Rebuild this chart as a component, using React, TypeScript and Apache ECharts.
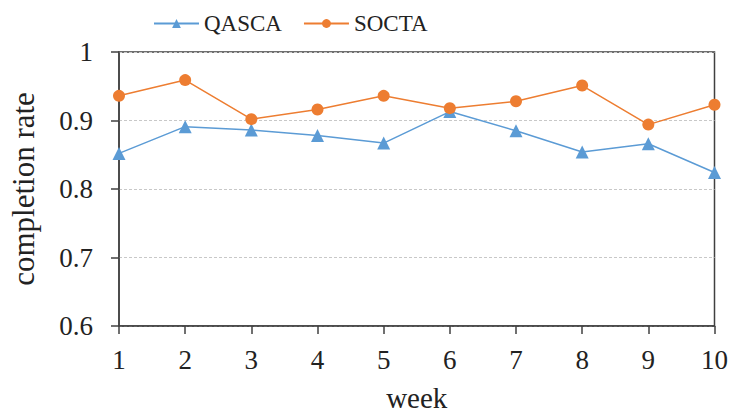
import React, { useEffect, useRef } from "react";
import * as echarts from "echarts";

const weeks = ["1", "2", "3", "4", "5", "6", "7", "8", "9", "10"];
const qasca = [0.852, 0.891, 0.886, 0.878, 0.867, 0.913, 0.885, 0.854, 0.866, 0.824];
const socta = [0.936, 0.959, 0.902, 0.916, 0.936, 0.918, 0.928, 0.951, 0.894, 0.923];

const FONT = "'Liberation Serif', 'Times New Roman', serif";
const AXIS_COLOR = "#404040";
const TEXT_COLOR = "#222";

export default function App() {
  const ref = useRef<HTMLDivElement>(null);
  useEffect(() => {
    if (!ref.current) return;
    const chart = echarts.init(ref.current, undefined, { renderer: "svg" });
    chart.setOption({
      animation: false,
      textStyle: { fontFamily: FONT },
      legend: {
        top: 7,
        left: 148,
        itemWidth: 45,
        itemHeight: 11,
        itemGap: 21,
        textStyle: { fontFamily: FONT, fontSize: 23, color: TEXT_COLOR },
        data: ["QASCA", "SOCTA"],
      },
      grid: {
        left: 116,
        right: 15,
        top: 52,
        bottom: 87,
        show: true,
        borderColor: AXIS_COLOR,
        borderWidth: 1.5,
      },
      xAxis: {
        type: "category",
        data: weeks,
        boundaryGap: false,
        name: "week",
        nameLocation: "middle",
        nameGap: 57,
        nameTextStyle: { fontFamily: FONT, fontSize: 29, color: TEXT_COLOR },
        axisLine: { lineStyle: { color: AXIS_COLOR, width: 1.5 } },
        axisTick: { alignWithLabel: true, length: 8, inside: false, lineStyle: { color: AXIS_COLOR, width: 1.5 } },
        axisLabel: { fontFamily: FONT, fontSize: 27, color: TEXT_COLOR, margin: 20 },
        splitLine: { show: false },
      },
      yAxis: {
        type: "value",
        min: 0.6,
        max: 1,
        interval: 0.1,
        name: "completion rate",
        nameLocation: "middle",
        nameGap: 80,
        nameTextStyle: { fontFamily: FONT, fontSize: 31, color: TEXT_COLOR },
        axisLine: { show: true, lineStyle: { color: AXIS_COLOR, width: 1.5 } },
        axisTick: { show: true, length: 8, lineStyle: { color: AXIS_COLOR, width: 1.5 } },
        axisLabel: {
          fontFamily: FONT,
          fontSize: 27,
          color: TEXT_COLOR,
          margin: 26,
          formatter: (v: number) => (Math.abs(v - 1) < 1e-9 ? "1" : v.toFixed(1)),
        },
        splitLine: { show: true, lineStyle: { color: "#c8c8c8", type: [3, 2], width: 1 } },
      },
      series: [
        {
          name: "QASCA",
          type: "line",
          data: qasca,
          symbol: "triangle",
          symbolSize: 13,
          color: "#5B9BD5",
          lineStyle: { width: 1.5, color: "#5B9BD5" },
          itemStyle: { color: "#5B9BD5" },
        },
        {
          name: "SOCTA",
          type: "line",
          data: socta,
          symbol: "circle",
          symbolSize: 12,
          color: "#ED7D31",
          lineStyle: { width: 1.5, color: "#ED7D31" },
          itemStyle: { color: "#ED7D31" },
        },
      ],
    });
    return () => chart.dispose();
  }, []);
  return (
    <div
      ref={ref}
      style={{ position: "absolute", left: 0, top: 0, width: 731, height: 417 }}
    />
  );
}
